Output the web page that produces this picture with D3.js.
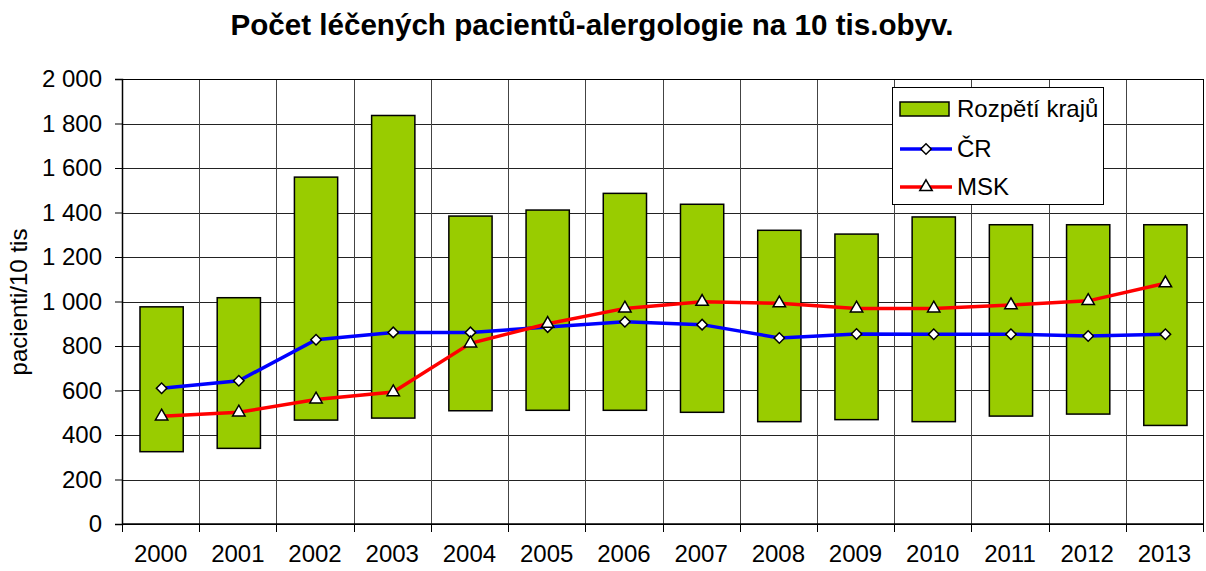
<!DOCTYPE html>
<html>
<head>
<meta charset="utf-8">
<script src="https://cdn.jsdelivr.net/npm/d3@7"></script>
<style>
  body { margin: 0; background: #fff; }
  svg { display: block; font-family: Arial, "Liberation Sans", sans-serif; }
</style>
</head>
<body>
<svg id="chart" width="1206" height="571"></svg>
<script>
// data
var years = ['2000','2001','2002','2003','2004','2005','2006','2007','2008','2009','2010','2011','2012','2013'];
var rangeMin = [325, 340, 467, 476, 509, 511, 511, 502, 460, 469, 460, 485, 494, 443];
var rangeMax = [976, 1017, 1559, 1836, 1384, 1411, 1486, 1437, 1320, 1303, 1380, 1345, 1345, 1345];
var cr = [610, 644, 828, 861, 861, 885, 909, 896, 836, 854, 853, 853, 845, 853];
var msk = [484, 502, 560, 593, 812, 900, 969, 999, 992, 969, 969, 984, 1003, 1082];
var yTicks = [0, 200, 400, 600, 800, 1000, 1200, 1400, 1600, 1800, 2000];

var svg = d3.select('#chart');

var plotL = 122, plotR = 1203, plotT = 79, plotB = 524;

var x = d3.scaleBand().domain(years).range([plotL, plotR]).padding(0);
var y = d3.scaleLinear().domain([0, 2000]).range([plotB, plotT]);

var fmt = function(v) { return d3.format(',')(v).replace(/,/g, ' '); };

// title
svg.append('text')
    .attr('x', 592).attr('y', 35)
    .attr('text-anchor', 'middle')
    .style('font-size', '29.6px').style('font-weight', 'bold')
    .text('Počet léčených pacientů-alergologie na 10 tis.obyv.');

// gridlines
svg.append('g').selectAll('line')
    .data(yTicks)
    .enter().append('line')
    .attr('x1', plotL).attr('x2', plotR)
    .attr('y1', d => Math.round(y(d)) + 0.5).attr('y2', d => Math.round(y(d)) + 0.5)
    .attr('stroke', '#222').attr('stroke-width', 1);

svg.append('g').selectAll('line')
    .data(years.slice(1))
    .enter().append('line')
    .attr('x1', d => Math.round(x(d)) + 0.5).attr('x2', d => Math.round(x(d)) + 0.5)
    .attr('y1', plotT).attr('y2', plotB)
    .attr('stroke', '#444').attr('stroke-width', 1);

// plot frame
svg.append('rect')
    .attr('x', plotL + 0.5).attr('y', plotT + 0.5)
    .attr('width', plotR - plotL).attr('height', plotB - plotT)
    .attr('fill', 'none').attr('stroke', '#000').attr('stroke-width', 1);

// y axis
var yAxis = d3.axisLeft(y).tickValues(yTicks).tickFormat(fmt).tickSize(7).tickPadding(13);
var gy = svg.append('g').attr('transform', 'translate(' + plotL + ',0)').call(yAxis);
gy.select('.domain').attr('stroke', '#000').attr('stroke-width', 1.5);
gy.selectAll('.tick line').attr('stroke', '#000');
gy.selectAll('.tick text').style('font-size', '24px').attr('fill', '#000')
    .style('font-family', 'Arial, "Liberation Sans", sans-serif');

// x axis: ticks on category boundaries
var gx = svg.append('g').attr('transform', 'translate(0,' + plotB + ')');
gx.append('line').attr('x1', plotL).attr('x2', plotR).attr('stroke', '#000').attr('stroke-width', 1.5);
gx.selectAll('line.tk')
    .data(years.concat(['end']))
    .enter().append('line')
    .attr('x1', (d, i) => Math.round(plotL + i * x.bandwidth()) + 0.5)
    .attr('x2', (d, i) => Math.round(plotL + i * x.bandwidth()) + 0.5)
    .attr('y1', 0).attr('y2', 8)
    .attr('stroke', '#000');
gx.selectAll('text')
    .data(years)
    .enter().append('text')
    .attr('x', d => x(d) + x.bandwidth() / 2)
    .attr('y', 38)
    .attr('text-anchor', 'middle')
    .style('font-size', '24px')
    .text(d => d);

// y label
svg.append('text')
    .attr('transform', 'translate(27,302) rotate(-90)')
    .attr('text-anchor', 'middle')
    .style('font-size', '24px')
    .text('pacienti/10 tis');

// floating range bars
var barW = x.bandwidth() * 0.56;
svg.append('g').selectAll('rect')
    .data(years)
    .enter().append('rect')
    .attr('x', d => x(d) + (x.bandwidth() - barW) / 2 + 1)
    .attr('width', barW)
    .attr('y', (d, i) => y(rangeMax[i]))
    .attr('height', (d, i) => y(rangeMin[i]) - y(rangeMax[i]))
    .attr('fill', '#99CC00').attr('stroke', '#000').attr('stroke-width', 1.5);

var cx = d => x(d) + x.bandwidth() / 2 + 1;

var line = d3.line()
    .x(d => cx(d.year))
    .y(d => y(d.v));

var crData = years.map((d, i) => ({year: d, v: cr[i]}));
var mskData = years.map((d, i) => ({year: d, v: msk[i]}));

svg.append('path').datum(crData).attr('d', line)
    .attr('fill', 'none').attr('stroke', '#0000FF').attr('stroke-width', 3.5);
svg.append('path').datum(mskData).attr('d', line)
    .attr('fill', 'none').attr('stroke', '#FF0000').attr('stroke-width', 3.5);

var diamond = d3.symbol().type(d3.symbolSquare2).size(70);
var triangle = d3.symbol().type(d3.symbolTriangle2).size(110);

svg.append('g').selectAll('path')
    .data(crData)
    .enter().append('path')
    .attr('d', diamond)
    .attr('transform', d => 'translate(' + cx(d.year) + ',' + y(d.v) + ') rotate(45)')
    .attr('fill', '#fff').attr('stroke', '#000').attr('stroke-width', 1.5);

svg.append('g').selectAll('path')
    .data(mskData)
    .enter().append('path')
    .attr('d', triangle)
    .attr('transform', d => 'translate(' + cx(d.year) + ',' + y(d.v) + ')')
    .attr('fill', '#fff').attr('stroke', '#000').attr('stroke-width', 1.5);

// legend
var lg = svg.append('g').attr('transform', 'translate(892,87)');
lg.append('rect').attr('x', 0.5).attr('y', 0.5).attr('width', 211).attr('height', 117)
    .attr('fill', '#fff').attr('stroke', '#000').attr('stroke-width', 1);
lg.append('rect').attr('x', 8).attr('y', 15).attr('width', 49).attr('height', 14)
    .attr('fill', '#99CC00').attr('stroke', '#000').attr('stroke-width', 1.5);
lg.append('text').attr('x', 65).attr('y', 30).style('font-size', '24px').text('Rozpětí krajů');

lg.append('line').attr('x1', 8).attr('x2', 60).attr('y1', 62).attr('y2', 62)
    .attr('stroke', '#0000FF').attr('stroke-width', 3.5);
lg.append('path').attr('d', diamond).attr('transform', 'translate(34,62) rotate(45)')
    .attr('fill', '#fff').attr('stroke', '#000').attr('stroke-width', 1.5);
lg.append('text').attr('x', 65).attr('y', 70).style('font-size', '24px').text('ČR');

lg.append('line').attr('x1', 8).attr('x2', 60).attr('y1', 100).attr('y2', 100)
    .attr('stroke', '#FF0000').attr('stroke-width', 3.5);
lg.append('path').attr('d', triangle).attr('transform', 'translate(34,100)')
    .attr('fill', '#fff').attr('stroke', '#000').attr('stroke-width', 1.5);
lg.append('text').attr('x', 65).attr('y', 108).style('font-size', '24px').text('MSK');
</script>
</body>
</html>
